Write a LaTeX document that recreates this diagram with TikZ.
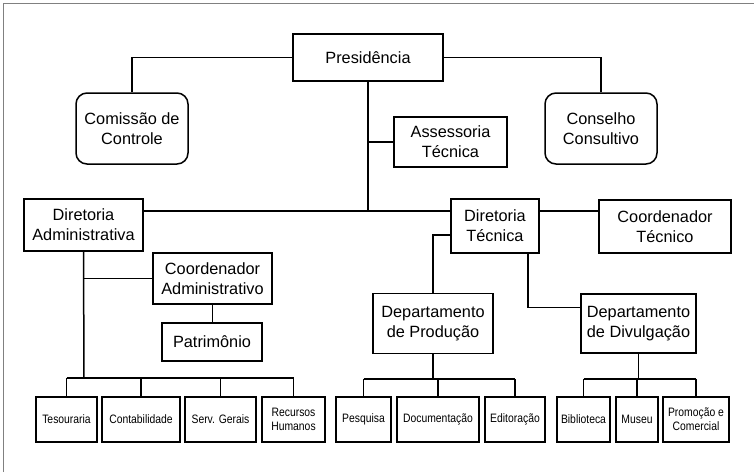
\documentclass[tikz,border=0pt]{standalone}
\usepackage{fontspec}
\setmainfont{Liberation Sans}
\newfontfamily\narrowfont[FakeStretch=0.85]{Liberation Sans}
\usetikzlibrary{positioning,calc}
\tikzset{
    size/.style 2 args={minimum width=#1pt, minimum height=#2pt},
    orgchart/.style={
        x=1pt, y=-1pt,
        line width=1.5pt,
        % caixa retangular (orgao)
        unit/.style={draw, rectangle, align=center, inner sep=0pt,
                     font=\fontsize{16.3}{20}\selectfont},
        % caixa arredondada (colegiado)
        council/.style={unit, rounded corners=11pt},
        % caixa pequena (setor)
        sector/.style={draw, rectangle, align=center, inner sep=0pt,
                       minimum height=45pt,
                       font=\narrowfont\fontsize{12.2}{14}\selectfont}
    }
}
\begin{document}
\begin{tikzpicture}[orgchart]
    \useasboundingbox (0,0) rectangle (754,472);
    \draw[gray, line width=0.8pt] (3,472) -- (3,3) -- (754,3);

    \node[unit, size={150}{47}] (pres) at (368,57.5) {Presidência};
    \node[council, size={112}{71}] (comissao) at (132,128.5) {Comissão de\\Controle};
    \node[council, size={112}{71}] (conselho) at (601,128.5) {Conselho\\Consultivo};
    \node[unit, size={113}{50}] (assessoria) at (450.5,142) {Assessoria\\Técnica};
    \node[unit, size={119}{52}] (diradm) at (83.5,225) {Diretoria\\Administrativa};
    \node[unit, size={88}{54}] (dirtec) at (495,226) {Diretoria\\Técnica};
    \node[unit, size={132}{53}] (coordtec) at (665,226.5) {Coordenador\\Técnico};
    \node[unit, size={119}{51}] (coordadm) at (212.5,278.5) {Coordenador\\Administrativo};
    \node[unit, size={100}{38}] (patrimonio) at (212,342) {Patrimônio};
    \node[unit, size={120}{60}] (depprod) at (433,323.5) {Departamento\\de Produção};
    \node[unit, size={115}{59}] (depdiv) at (638.5,323.5) {Departamento\\de Divulgação};

    \node[sector, minimum width=61pt] (tesouraria) at (66.5,419.5) {Tesouraria};
    \node[sector, minimum width=78pt] (contab) at (141,419.5) {Contabilidade};
    \node[sector, minimum width=71pt] (servgerais) at (220.5,419.5) {Serv. Gerais};
    \node[sector, minimum width=63pt] (rh) at (293.5,419.5) {Recursos\\Humanos};
    \node[sector, minimum width=55pt] (pesquisa) at (363.5,419.5) {Pesquisa};
    \node[sector, minimum width=82pt] (document) at (438,419.5) {Documentação};
    \node[sector, minimum width=60pt] (editor) at (515,419.5) {Editoração};
    \node[sector, minimum width=53pt] (biblio) at (583.5,419.5) {Biblioteca};
    \node[sector, minimum width=42pt] (museu) at (637,419.5) {Museu};
    \node[sector, minimum width=66pt] (promocao) at (696,419.5) {Promoção e\\Comercial};

    \coordinate (hub) at (368,211);
    \coordinate (admbus) at (84,378);
    \coordinate (prodbus) at (433,379);
    \coordinate (divbus) at (638.5,379);

    % presidencia
    \draw (pres.west) -| (comissao.north);
    \draw (pres.east) -| (conselho.north);
    \draw (pres.south) -- (hub);
    \draw (pres.south |- assessoria.west) -- (assessoria.west);
    \draw (diradm.east |- hub) -- (dirtec.west |- hub);
    \draw (dirtec.east |- hub) -- (coordtec.west |- hub);

    % diretoria administrativa
    \draw (diradm.south) -- (admbus);
    \draw (diradm.south |- coordadm.west) -- (coordadm.west);
    \draw (coordadm.south) -- (coordadm.south |- patrimonio.north);
    \draw (tesouraria.north |- admbus) -- (rh.north |- admbus);
    \foreach \s in {tesouraria,contab,servgerais,rh}
        \draw (\s.north |- admbus) -- (\s.north);

    % diretoria tecnica
    \draw ([yshift=-9pt]dirtec.west) -| (depprod.north);
    \draw ([xshift=33pt]dirtec.south) |- ([yshift=16pt]depdiv.west);
    \draw (depprod.south) -- (prodbus);
    \draw (pesquisa.north |- prodbus) -- (editor.north |- prodbus);
    \foreach \s in {pesquisa,document,editor}
        \draw (\s.north |- prodbus) -- (\s.north);
    \draw (depdiv.south) -- (divbus);
    \draw (biblio.north |- divbus) -- (promocao.north |- divbus);
    \foreach \s in {biblio,museu,promocao}
        \draw (\s.north |- divbus) -- (\s.north);
\end{tikzpicture}
\end{document}
